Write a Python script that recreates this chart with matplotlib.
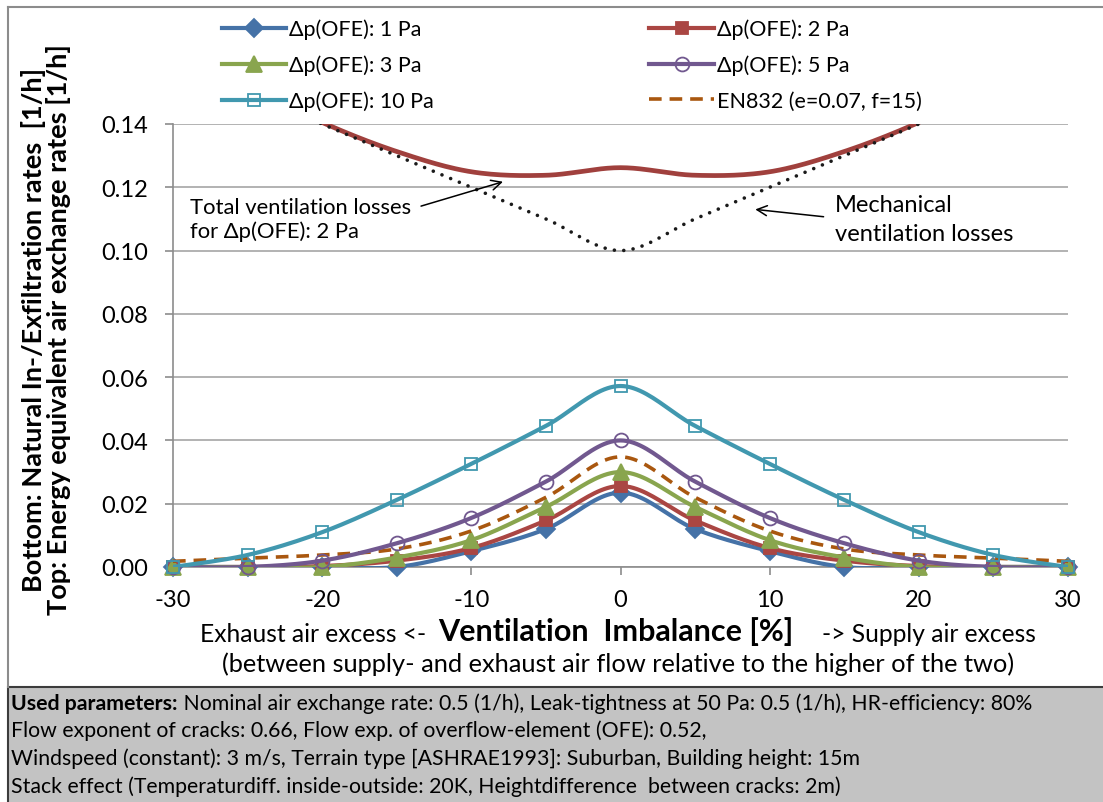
"""Ventilation imbalance vs. natural infiltration / energy equivalent air exchange."""

import matplotlib
matplotlib.use("Agg")
import matplotlib.pyplot as plt
import numpy as np
from matplotlib.lines import Line2D
from matplotlib.patches import Rectangle

plt.rcParams["font.family"] = ["Lato", "DejaVu Sans"]
plt.rcParams["axes.unicode_minus"] = False

imbalance = [-30, -25, -20, -15, -10, -5, 0, 5, 10, 15, 20, 25, 30]

ofe_1pa = [0, 0, 0, 0, 0.005, 0.012, 0.0235, 0.012, 0.005, 0, 0, 0, 0]
ofe_2pa = [0, 0, 0.0003, 0.002, 0.006, 0.0147, 0.0256, 0.0147, 0.006, 0.002, 0.0003, 0, 0]
ofe_3pa = [0, 0, 0, 0.003, 0.0085, 0.019, 0.030, 0.019, 0.0085, 0.003, 0, 0, 0]
ofe_5pa = [0, 0, 0.002, 0.0075, 0.0155, 0.027, 0.040, 0.027, 0.0155, 0.0075, 0.002, 0, 0]
ofe_10pa = [0, 0.0038, 0.011, 0.0212, 0.0326, 0.0446, 0.0572, 0.0446, 0.0326, 0.0212, 0.011, 0.0038, 0]
en832 = [0.0018, 0.0028, 0.0038, 0.0057, 0.0114, 0.022, 0.0348, 0.022, 0.0114, 0.0057, 0.0038, 0.0028, 0.0018]

total_2pa = [0.163, 0.152, 0.1405, 0.1313, 0.1249, 0.1238, 0.1262,
             0.1238, 0.1249, 0.1313, 0.1405, 0.152, 0.163]
mechanical = [0.16, 0.15, 0.14, 0.13, 0.12, 0.11, 0.10, 0.11, 0.12, 0.13, 0.14, 0.15, 0.16]

series = [
    ("Δp(OFE): 1 Pa", ofe_1pa, "#4572A7", "D", 9, "#4572A7"),
    ("Δp(OFE): 2 Pa", ofe_2pa, "#AA4643", "s", 9, "#AA4643"),
    ("Δp(OFE): 3 Pa", ofe_3pa, "#89A54E", "^", 11, "#89A54E"),
    ("Δp(OFE): 5 Pa", ofe_5pa, "#71588F", "o", 10, "none"),
    ("Δp(OFE): 10 Pa", ofe_10pa, "#4198AF", "s", 9, "none"),
]
en_label = "EN832 (e=0.07, f=15)"
en_color = "#A9570F"

params_bold = "Used parameters:"
params_lines = [
    " Nominal air exchange rate: 0.5 (1/h), Leak-tightness at 50 Pa: 0.5 (1/h), HR-efficiency: 80%",
    "Flow exponent of cracks: 0.66, Flow exp. of overflow-element (OFE): 0.52,",
    "Windspeed (constant): 3 m/s, Terrain type [ASHRAE1993]: Suburban, Building height: 15m",
    "Stack effect (Temperaturdiff. inside-outside: 20K, Heightdifference  between cracks: 2m)",
]


def smooth(x, y, n=24):
    # excel-like smoothed line: bezier through points, catmull-rom tangents
    x = np.asarray(x, float)
    y = np.asarray(y, float)
    px = np.concatenate([[x[0]], x, [x[-1]]])
    py = np.concatenate([[y[0]], y, [y[-1]]])
    t = np.linspace(0, 1, n)[:, None]
    xs, ys = [], []
    for i in range(1, len(px) - 2):
        p0 = np.array([px[i - 1], py[i - 1]])
        p1 = np.array([px[i], py[i]])
        p2 = np.array([px[i + 1], py[i + 1]])
        p3 = np.array([px[i + 2], py[i + 2]])
        c1 = p1 + (p2 - p0) / 6
        c2 = p2 - (p3 - p1) / 6
        pts = ((1 - t) ** 3) * p1 + 3 * ((1 - t) ** 2) * t * c1 + 3 * (1 - t) * t ** 2 * c2 + t ** 3 * p2
        xs.append(pts[:, 0])
        ys.append(pts[:, 1])
    return np.concatenate(xs), np.concatenate(ys)


def main():
    fig = plt.figure(figsize=(11.03, 8.03), dpi=100)
    W, H = 1103, 803
    ax = fig.add_axes([173 / W, 1 - 568 / H, (1068 - 173) / W, (568 - 125) / H])

    ax.set_xlim(-30, 30)
    ax.set_ylim(0, 0.14)
    ax.set_xticks(range(-30, 31, 10))
    ax.set_yticks(np.arange(0, 0.141, 0.02))
    ax.set_yticklabels([f"{v:.2f}" for v in np.arange(0, 0.141, 0.02)])
    ax.grid(axis="y", color="#A6A6A6", lw=1.2)
    ax.set_axisbelow(True)
    for s in ("top", "right"):
        ax.spines[s].set_visible(False)
    for s in ("left", "bottom"):
        ax.spines[s].set_color("#8C8C8C")
        ax.spines[s].set_linewidth(1.2)
    ax.tick_params(axis="both", colors="#8C8C8C", length=6, width=1.2, labelsize=17,
                   labelcolor="black")
    ax.tick_params(axis="y", pad=12)
    ax.tick_params(axis="x", pad=10)

    # top: energy equivalent rates
    sx, sy = smooth(imbalance, total_2pa)
    ax.plot(sx, sy, color="#A0403D", lw=3.4, solid_capstyle="round", zorder=3)
    sx, sy = smooth(imbalance, mechanical)
    ax.plot(sx, sy, color="#1A1A1A", lw=2.6, ls=(0, (0.01, 2.6)), dash_capstyle="round", zorder=3)

    # bottom: infiltration rates
    handles = []
    for i, (label, vals, color, marker, ms, face) in enumerate(series):
        sx, sy = smooth(imbalance, vals)
        ax.plot(sx, sy, color=color, lw=3, zorder=4 + i)
        ax.plot(imbalance, vals, ls="none", marker=marker, ms=ms, mfc=face, mec=color,
                mew=1.3, clip_on=False, zorder=4 + i)
        handles.append(Line2D([], [], color=color, lw=3, marker=marker, ms=ms, mfc=face,
                              mec=color, mew=1.3, label=label))
    sx, sy = smooth(imbalance, en832)
    ax.plot(sx, sy, color=en_color, lw=2.6, ls=(0, (3.5, 2.2)), zorder=6.5)
    handles.append(Line2D([], [], color=en_color, lw=2.6, ls=(0, (3.5, 2.2)), label=en_label))

    # legend fills column-wise, so reorder to read row-wise like the original
    order = [0, 2, 4, 1, 3, 5]
    fig.legend([handles[k] for k in order], [handles[k].get_label() for k in order],
               ncol=2, loc="upper left", bbox_to_anchor=(213 / W, 1 - 11 / H), frameon=False,
               fontsize=15.5, handlelength=3.0, handletextpad=0.15, columnspacing=10.0,
               labelspacing=0.72, borderaxespad=0)

    # annotations
    ax.text(-28.83, 0.110, "Total ventilation losses\nfor Δp(OFE): 2 Pa", fontsize=15.8,
            ha="left", va="center", linespacing=1.2)
    ax.annotate("", xy=(-7.7, 0.1220), xytext=(-13.55, 0.1138),
                arrowprops=dict(arrowstyle="->", color="black", lw=1.1, mutation_scale=18))
    ax.text(14.35, 0.110, "Mechanical\nventilation losses", fontsize=17,
            ha="left", va="center", linespacing=1.5)
    ax.annotate("", xy=(8.85, 0.1131), xytext=(13.8, 0.1106),
                arrowprops=dict(arrowstyle="->", color="black", lw=1.1, mutation_scale=18))

    # axis titles
    fig.text(46 / W, 1 - 330 / H,
             "Bottom: Natural In-/Exfiltration rates  [1/h]\nTop: Energy equivalent air exchange rates [1/h]",
             rotation=90, ha="center", va="center", fontsize=19.5, fontweight="bold",
             linespacing=0.98, multialignment="center")
    fig.text(616 / W, 1 - 632 / H, "Ventilation  Imbalance [%]", ha="center", va="center",
             fontsize=22, fontweight="bold")
    fig.text(200 / W, 1 - 634 / H, "Exhaust air excess <-", ha="left", va="center", fontsize=17.7)
    fig.text(822 / W, 1 - 634 / H, "-> Supply air excess", ha="left", va="center", fontsize=17.7)
    fig.text(618 / W, 1 - 664 / H,
             "(between supply- and exhaust air flow relative to the higher of the two)",
             ha="center", va="center", fontsize=18.3)

    # outer frame and parameter box
    fig.add_artist(Line2D([8 / W, 8 / W], [1 - 688 / H, 1 - 8 / H], color="#8C8C8C", lw=1.5))
    fig.add_artist(Line2D([8 / W, 1], [1 - 8 / H, 1 - 8 / H], color="#8C8C8C", lw=1.5))
    fig.add_artist(Rectangle((8 / W, -0.01), 1, (803 - 688) / H + 0.01, facecolor="#C3C3C3",
                             edgecolor="#3C3C3C", lw=1.5, transform=fig.transFigure, zorder=1))
    ys = [704, 731, 759, 787]
    fs = 15.3
    t0 = fig.text(11 / W, 1 - ys[0] / H, params_bold, fontsize=fs, fontweight="bold",
                  ha="left", va="center", zorder=2)
    renderer = fig.canvas.get_renderer()
    x1 = t0.get_window_extent(renderer).x1 / W
    fig.text(x1, 1 - ys[0] / H, params_lines[0], fontsize=fs, ha="left", va="center", zorder=2)
    for y, line in zip(ys[1:], params_lines[1:]):
        fig.text(11 / W, 1 - y / H, line, fontsize=fs, ha="left", va="center", zorder=2)

    fig.savefig("out.png", dpi=100)


if __name__ == "__main__":
    main()
